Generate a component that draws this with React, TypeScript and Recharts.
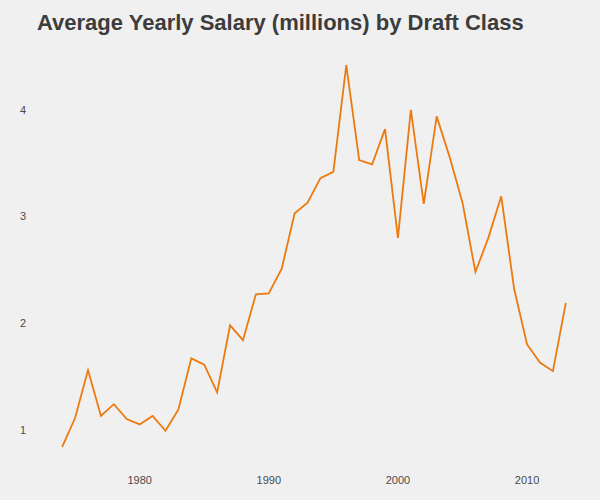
import { LineChart, Line, XAxis, YAxis } from 'recharts'

const years = [
  1974, 1975, 1976, 1977, 1978, 1979, 1980, 1981, 1982, 1983,
  1984, 1985, 1986, 1987, 1988, 1989, 1990, 1991, 1992, 1993,
  1994, 1995, 1996, 1997, 1998, 1999, 2000, 2001, 2002, 2003,
  2004, 2005, 2006, 2007, 2008, 2009, 2010, 2011, 2012, 2013,
]

const salary = [
  0.84, 1.11, 1.56, 1.13, 1.24, 1.10, 1.05, 1.13, 0.99, 1.19,
  1.67, 1.61, 1.35, 1.98, 1.84, 2.27, 2.28, 2.51, 3.03, 3.13,
  3.36, 3.42, 4.42, 3.53, 3.49, 3.82, 2.80, 4.00, 3.12, 3.94,
  3.56, 3.13, 2.48, 2.80, 3.19, 2.32, 1.80, 1.63, 1.55, 2.19,
]

const xTicks = [1980, 1990, 2000, 2010]
const yTicks = [1, 2, 3, 4]

const data = years.map((year, i) => ({ year, salary: salary[i] }))

export default function App() {
  const tickStyle = { fontSize: 11, fill: '#4a4a4a', fontFamily: '"Liberation Sans", Arial, sans-serif' }

  return (
    <div
      style={{
        position: 'absolute',
        left: 0,
        top: 0,
        width: 600,
        height: 500,
        background: '#f0f0f0',
        fontFamily: '"Liberation Sans", Arial, sans-serif',
      }}
    >
      <div
        style={{
          position: 'absolute',
          left: 37,
          top: 10,
          fontSize: 22,
          fontWeight: 'bold',
          color: '#3c3c3c',
          whiteSpace: 'nowrap',
        }}
      >
        Average Yearly Salary (millions) by Draft Class
      </div>
      <LineChart width={600} height={500} data={data} margin={{ top: 46, right: 9, bottom: 0, left: 0 }}>
        <XAxis
          dataKey="year"
          type="number"
          domain={[1972.05, 2014.95]}
          ticks={xTicks}
          axisLine={false}
          tickLine={false}
          height={34}
          tickMargin={4}
          tick={tickStyle}
          allowDataOverflow
        />
        <YAxis
          type="number"
          domain={[0.66, 4.6]}
          ticks={yTicks}
          axisLine={false}
          tickLine={false}
          width={37}
          tickMargin={5}
          tick={tickStyle}
          allowDataOverflow
        />
        <Line
          type="linear"
          dataKey="salary"
          stroke="#ec7a0d"
          strokeWidth={1.8}
          dot={false}
          isAnimationActive={false}
        />
      </LineChart>
    </div>
  )
}
